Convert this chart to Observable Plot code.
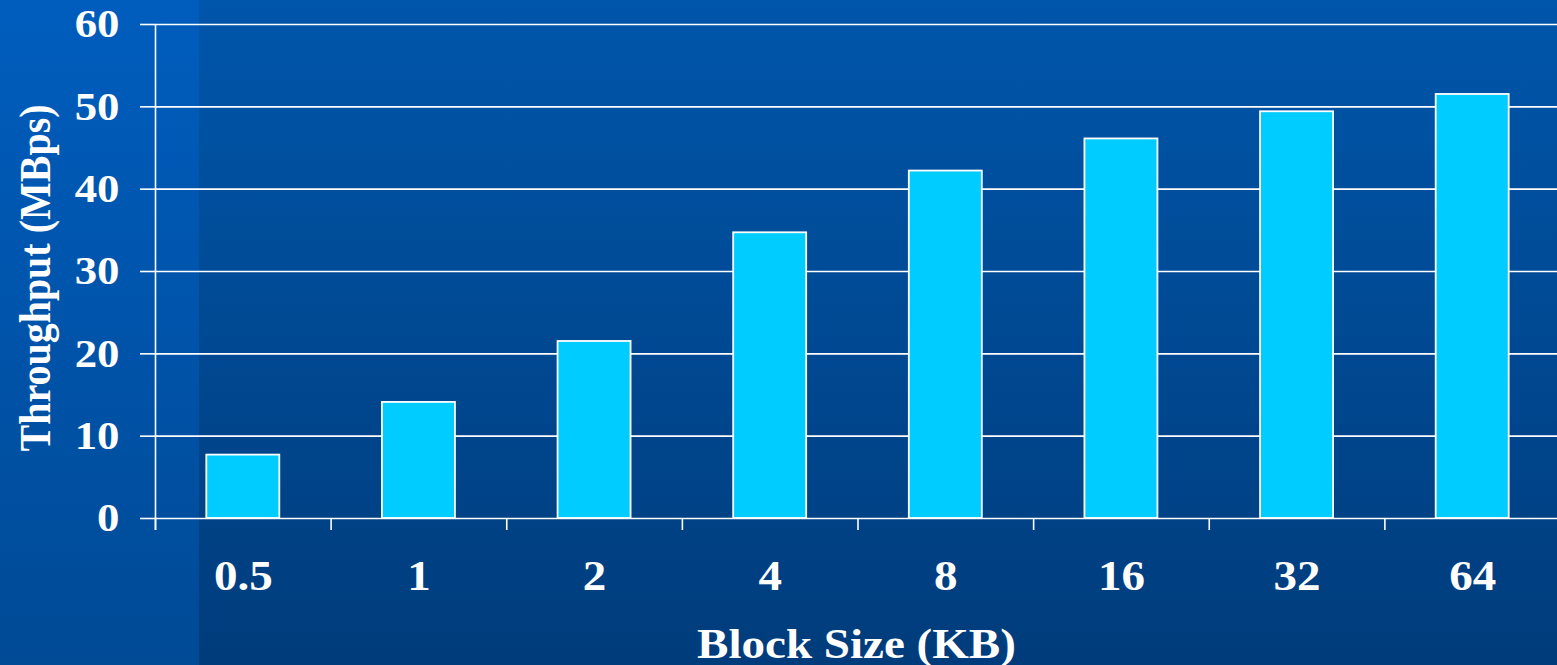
<!DOCTYPE html>
<html>
<head>
<meta charset="utf-8">
<script src="https://cdn.jsdelivr.net/npm/d3@7"></script>
<script src="https://cdn.jsdelivr.net/npm/@observablehq/plot@0.6"></script>
<style>
  html, body { margin: 0; padding: 0; width: 1557px; height: 665px; overflow: hidden; }
  body {
    background:
      linear-gradient(to bottom, #005dbd, #004a96) 0 0 / 199px 100% no-repeat,
      linear-gradient(to bottom, #0056ab, #003c7b);
  }
  #chart svg { display: block; }
</style>
</head>
<body>
<div id="chart"></div>
<script>
// Block sizes (KB) and measured throughput (MBps)
const categories = ["0.5", "1", "2", "4", "8", "16", "32", "64"];
const throughput = [7.7, 14.1, 21.5, 34.7, 42.2, 46.1, 49.4, 51.5];
const yTicks = [0, 10, 20, 30, 40, 50, 60];
const xTitle = "Block Size (KB)";
const yTitle = "Throughput (MBps)";

const data = categories.map((size, i) => ({size, mbps: throughput[i]}));

const xRange = [155, 1560];
const bandwidth = (xRange[1] - xRange[0]) / categories.length;
const barInset = (bandwidth - 73) / 2;
const white = "white";
const widen = 1.12;

const chart = Plot.plot({
  width: 1557,
  height: 665,
  marginLeft: 155,
  marginRight: 0,
  marginTop: 24,
  marginBottom: 147,
  style: {
    background: "transparent",
    color: white,
    fontFamily: "'Liberation Serif', 'Times New Roman', serif",
    fontWeight: "bold"
  },
  x: {type: "band", domain: categories, range: xRange, padding: 0, round: false},
  y: {domain: [0, 60]},
  marks: [
    // horizontal gridlines (the one at zero doubles as the x axis line)
    Plot.ruleY(yTicks, {stroke: white, strokeWidth: 1.6}),
    Plot.barY(data, {
      x: "size", y: "mbps",
      fill: "#00ccff", stroke: white, strokeWidth: 1.8,
      insetLeft: barInset, insetRight: barInset
    }),
    // y axis line
    Plot.ruleX([categories[0]], {x: d => d, dx: -bandwidth / 2, insetBottom: -12, stroke: white, strokeWidth: 1.6}),
    // category boundary ticks below the x axis
    Plot.ruleX(categories, {x: d => d, y1: 0, y2: 0, dx: -bandwidth / 2, insetBottom: -12, stroke: white, strokeWidth: 1.6}),
    Plot.axisY(yTicks, {tickSize: 15, tickPadding: 21, fontSize: 40, strokeWidth: 1.6, label: null, tickFormat: d => String(d)}),
    Plot.axisX({tickSize: 0, tickPadding: 42, fontSize: 42, label: null}),
    Plot.text([xTitle], {text: d => d, frameAnchor: "bottom", lineAnchor: "middle", dy: 125.6, fontSize: 42}),
    Plot.text([yTitle], {text: d => d, frameAnchor: "left", textAnchor: "middle", rotate: -90, dx: -120, dy: 6.5, fontSize: 40})
  ]
});

document.getElementById("chart").append(chart);

// widen the lettering slightly to the face's wide set
chart.querySelectorAll("text").forEach(t => {
  const tr = t.getAttribute("transform") || "";
  if (tr.includes("rotate")) {
    // rotated title: widen across the glyphs' height direction
    t.setAttribute("transform", `${tr} scale(1,${widen})`);
    return;
  }
  const len = t.getComputedTextLength();
  if (len > 0) {
    t.setAttribute("textLength", (len * widen).toFixed(1));
    t.setAttribute("lengthAdjust", "spacingAndGlyphs");
  }
});
</script>
</body>
</html>
